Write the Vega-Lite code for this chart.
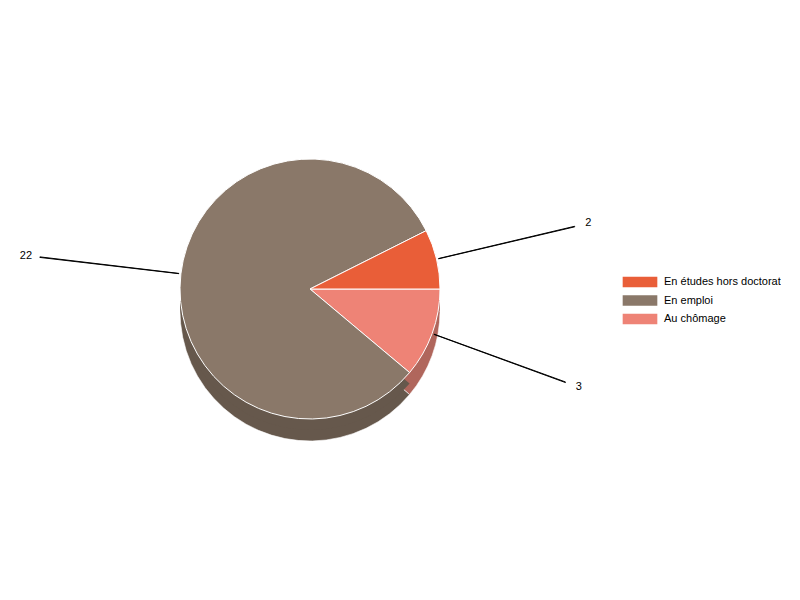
{
  "$schema": "https://vega.github.io/schema/vega-lite/v6.json",
  "width": 620,
  "height": 578,
  "padding": {"left": 0, "top": 0, "right": 0, "bottom": 0},
  "autosize": {"type": "pad"},
  "background": "#ffffff",
  "data": {
    "values": [
      {"status": "Au chômage", "count": 3, "rank": 1},
      {"status": "En emploi", "count": 22, "rank": 2},
      {"status": "En études hors doctorat", "count": 2, "rank": 3}
    ]
  },
  "transform": [
    {"window": [{"op": "sum", "field": "count", "as": "cum"}], "sort": [{"field": "rank"}]},
    {"calculate": "datum.cum - datum.count / 2", "as": "mid"}
  ],
  "layer": [
    {
      "mark": {"type": "arc", "outerRadius": 130, "yOffset": 22, "stroke": "#ffffff", "strokeWidth": 0.6},
      "encoding": {
        "theta": {"field": "count", "type": "quantitative", "stack": true,
          "scale": {"range": [1.5708, 7.854]}},
        "order": {"field": "rank"},
        "color": {"field": "status", "type": "nominal", "legend": null,
          "scale": {"domain": ["En études hors doctorat", "En emploi", "Au chômage"],
            "range": ["#a8442a", "#66584c", "#b0665c"]}}
      }
    },
    {
      "mark": {"type": "arc", "outerRadius": 130, "yOffset": 11},
      "encoding": {
        "theta": {"field": "count", "type": "quantitative", "stack": true},
        "order": {"field": "rank"},
        "color": {"field": "status", "type": "nominal", "legend": null,
          "scale": {"domain": ["En études hors doctorat", "En emploi", "Au chômage"],
            "range": ["#a8442a", "#66584c", "#b0665c"]}}
      }
    },
    {
      "mark": {"type": "arc", "outerRadius": 130, "stroke": "#ffffff", "strokeWidth": 1},
      "encoding": {
        "theta": {"field": "count", "type": "quantitative", "stack": true},
        "order": {"field": "rank"},
        "fill": {"field": "status", "type": "nominal", "title": null,
          "scale": {"domain": ["En études hors doctorat", "En emploi", "Au chômage"],
            "range": ["#e95e38", "#8a7869", "#ee8376"]}}
      }
    },
    {
      "mark": {"type": "arc", "stroke": "#000000", "strokeWidth": 1, "fill": null, "theta2Offset": 0.002},
      "encoding": {
        "theta": {"field": "mid", "type": "quantitative", "stack": null},
        "theta2": {"field": "mid"},
        "radius": {"value": 132},
        "radius2": {"value": 272}
      }
    },
    {
      "mark": {"type": "text", "font": "Liberation Sans", "fontSize": 11, "color": "#000000"},
      "encoding": {
        "theta": {"field": "mid", "type": "quantitative", "stack": null},
        "radius": {"value": 286},
        "text": {"field": "count", "type": "quantitative"}
      }
    }
  ],
  "resolve": {"scale": {"color": "independent"}},
  "config": {
    "view": {"stroke": null},
    "legend": {
      "orient": "none",
      "legendX": 631,
      "legendY": 273,
      "title": null,
      "symbolType": "M-2,-0.6L2,-0.6L2,0.6L-2,0.6Z",
      "symbolSize": 300,
      "symbolStrokeWidth": 0,
      "labelFont": "Liberation Sans",
      "labelFontSize": 11,
      "labelColor": "#000000",
      "rowPadding": 3.5,
      "labelOffset": 15
    }
  }
}
